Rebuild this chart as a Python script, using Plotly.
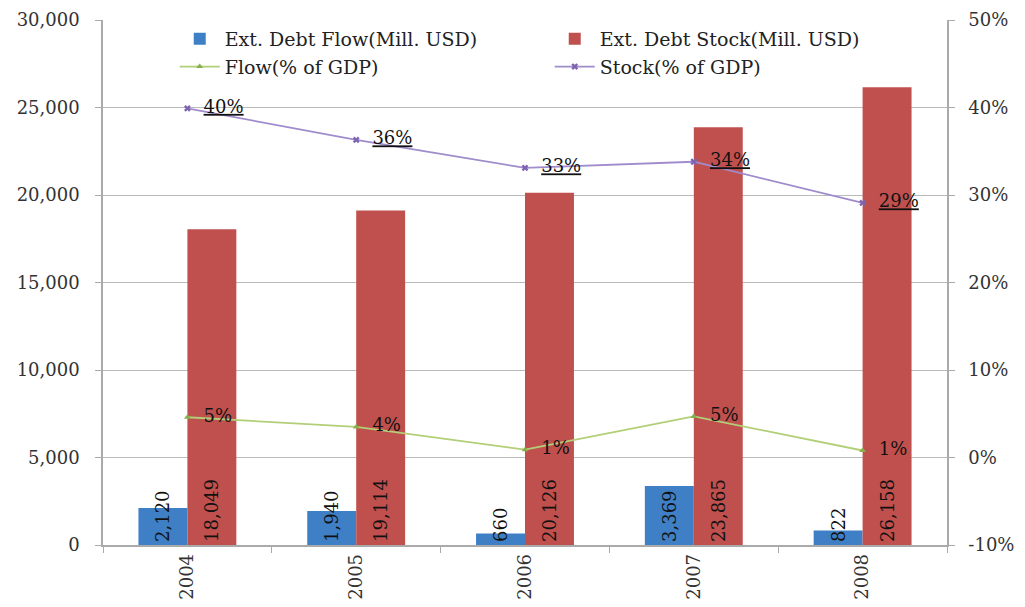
import plotly.graph_objects as go

years = ["2004", "2005", "2006", "2007", "2008"]
flow_mill = [2120, 1940, 660, 3369, 822]
stock_mill = [18049, 19114, 20126, 23865, 26158]
flow_pct = [4.6, 3.5, 0.9, 4.7, 0.8]
stock_pct = [39.9, 36.3, 33.1, 33.8, 29.1]
flow_pct_labels = ["5%", "4%", "1%", "5%", "1%"]
stock_pct_labels = ["40%", "36%", "33%", "34%", "29%"]
right_tick_vals = [-10, 0, 10, 20, 30, 40, 50]
right_tick_labels = ["-10%", "0%", "10%", "20%", "30%", "40%", "50%"]

FONT = "DejaVu Serif"
TXT = "#111111"
GAP = "\u00a0\u00a0"
fig = go.Figure()
fig.add_trace(go.Bar(
    x=years, y=flow_mill, name="Ext. Debt Flow(Mill. USD)",
    marker=dict(color="#3F7FC6", line=dict(width=0)),
    texttemplate="%{y:,.0f}", textposition="inside", insidetextanchor="start",
    textangle=-90, constraintext="none",
    textfont=dict(family=FONT, size=18, color=TXT),
))
fig.add_trace(go.Bar(
    x=years, y=stock_mill, name="Ext. Debt Stock(Mill. USD)",
    marker=dict(color="#C0504D", line=dict(width=0)),
    texttemplate="%{y:,.0f}", textposition="inside", insidetextanchor="start",
    textangle=-90, constraintext="none",
    textfont=dict(family=FONT, size=18, color=TXT),
))
fig.add_trace(go.Scatter(
    x=years, y=flow_pct, name="Flow(% of GDP)", yaxis="y2",
    mode="lines+markers+text",
    line=dict(color="#B2CF78", width=1.8),
    marker=dict(symbol="triangle-up", size=6, color="#86B04A"),
    text=[GAP + t for t in flow_pct_labels], textposition="middle right",
    textfont=dict(family=FONT, size=18, color=TXT),
))
fig.add_trace(go.Scatter(
    x=years, y=stock_pct, name="Stock(% of GDP)", yaxis="y2",
    mode="lines+markers+text",
    line=dict(color="#A08CCC", width=1.8),
    marker=dict(symbol="x", size=6, color="#7E64B0"),
    text=[GAP + "<u>" + t + "</u>" for t in stock_pct_labels], textposition="middle right",
    textfont=dict(family=FONT, size=18, color=TXT),
))

axis_common = dict(showline=True, linecolor="#AAAAAA", linewidth=1.5,
                   ticks="outside", ticklen=6, tickcolor="#AAAAAA",
                   automargin=False,
                   tickfont=dict(family=FONT, size=18, color="#333333"))

fig.update_layout(
    width=1025, height=607,
    margin=dict(l=103, r=78, t=20, b=62),
    paper_bgcolor="white", plot_bgcolor="white",
    barmode="group", bargap=0.42, bargroupgap=0,
    font=dict(family=FONT, size=18, color="#333333"),
    showlegend=True,
    legend=dict(orientation="h", x=0.085, y=1.0, xanchor="left", yanchor="top",
                entrywidth=320, entrywidthmode="pixels",
                font=dict(family=FONT, size=19, color="#222222"),
                bgcolor="rgba(255,255,255,0)", tracegroupgap=0, itemwidth=40),
    xaxis=dict(type="category", tickson="boundaries", tickangle=-90, showgrid=False,
               **axis_common),
    yaxis=dict(range=[0, 30000], dtick=5000, tickformat=",.0f",
               gridcolor="#BBBBBB", gridwidth=1.2, zeroline=False,
               ticklabelstandoff=12, **axis_common),
    yaxis2=dict(range=[-10, 50], tickmode="array", tickvals=right_tick_vals,
                ticktext=right_tick_labels, overlaying="y", side="right",
                showgrid=False, zeroline=False, ticklabelstandoff=10, **axis_common),
)
fig.write_html("out.html", config={"displayModeBar": False},
               post_script="document.body.style.margin='0';")
